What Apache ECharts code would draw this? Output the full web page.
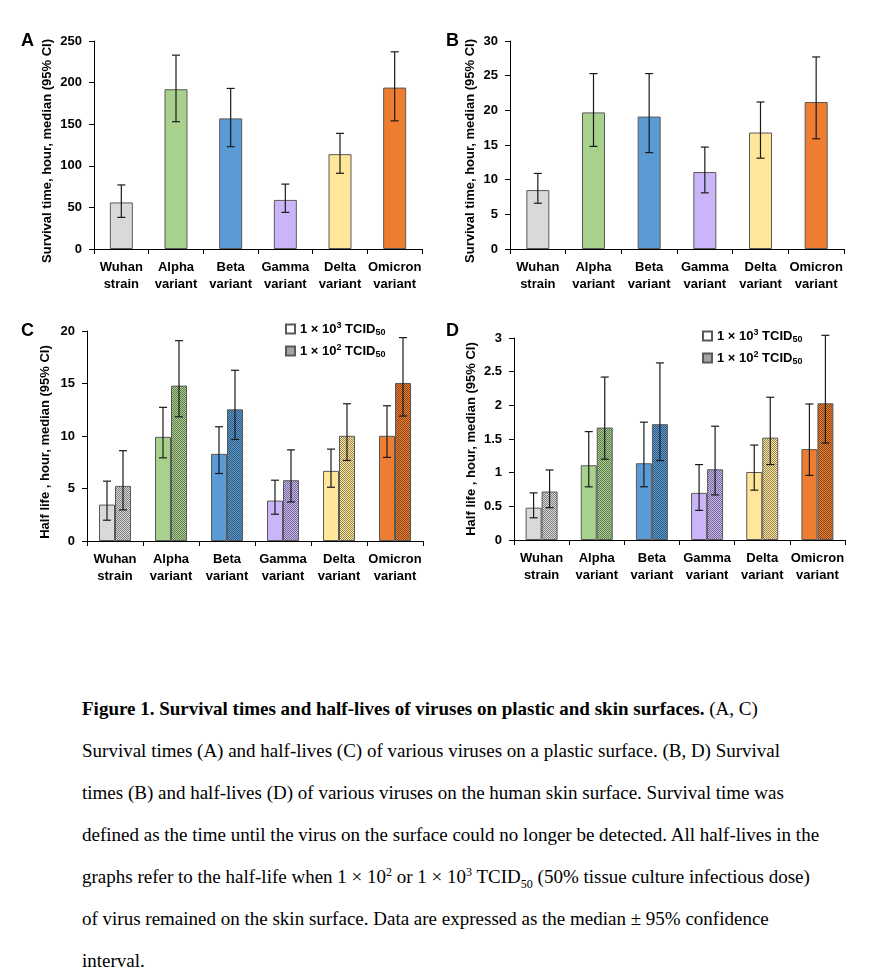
<!DOCTYPE html>
<html>
<head>
<meta charset="utf-8">
<script src="https://cdn.jsdelivr.net/npm/echarts@6/dist/echarts.min.js"></script>
<style>
  body { margin: 0; background: #fff; }
  #chart { position: absolute; left: 0; top: 0; width: 881px; height: 640px; }
  .caption {
    position: absolute; left: 82px; top: 688px;
    font-family: "Liberation Serif", "Times New Roman", serif;
    font-size: 19px; line-height: 42px; color: #000; white-space: nowrap;
  }
  .caption sup, .caption sub { font-size: 12px; line-height: 0; }
</style>
</head>
<body>
<div id="chart"></div>
<div class="caption">
  <b>Figure 1. Survival times and half-lives of viruses on plastic and skin surfaces.</b> (A, C)<br>
  Survival times (A) and half-lives (C) of various viruses on a plastic surface. (B, D) Survival<br>
  times (B) and half-lives (D) of various viruses on the human skin surface. Survival time was<br>
  defined as the time until the virus on the surface could no longer be detected. All half-lives in the<br>
  graphs refer to the half-life when 1 × 10<sup>2</sup> or 1 × 10<sup>3</sup> TCID<sub>50</sub> (50% tissue culture infectious dose)<br>
  of virus remained on the skin surface. Data are expressed as the median ± 95% confidence<br>
  interval.
</div>
<script>
// 病毒類別與顏色
const categories = ['Wuhan\nstrain', 'Alpha\nvariant', 'Beta\nvariant', 'Gamma\nvariant', 'Delta\nvariant', 'Omicron\nvariant'];
const barColors = ['#d9d9d9', '#a9d18e', '#5b9bd5', '#c9b5f7', '#ffe699', '#ed7d31'];
const legendNames = ['1 × 10^3 TCID50', '1 × 10^2 TCID50'];

// A: 塑膠表面存活時間
const plasticSurvival = [56, 192, 157, 59, 114, 194];
const plasticSurvivalLow = [38, 153, 123, 44, 91, 154];
const plasticSurvivalHigh = [77, 233, 193, 78, 139, 237];

// B: 皮膚表面存活時間
const skinSurvival = [8.5, 19.7, 19.1, 11.1, 16.8, 21.2];
const skinSurvivalLow = [6.6, 14.8, 13.9, 8.1, 13.1, 15.9];
const skinSurvivalHigh = [10.9, 25.3, 25.3, 14.7, 21.2, 27.7];

// C: 塑膠表面半衰期
const plasticHalf3 = [3.47, 9.92, 8.3, 3.85, 6.68, 10.02];
const plasticHalf3Low = [1.98, 7.92, 6.43, 2.55, 5.12, 7.96];
const plasticHalf3High = [5.7, 12.73, 10.88, 5.79, 8.75, 12.88];
const plasticHalf2 = [5.25, 14.8, 12.54, 5.79, 10.02, 15.05];
const plasticHalf2Low = [2.96, 11.83, 9.67, 3.72, 7.67, 11.9];
const plasticHalf2High = [8.6, 19.08, 16.26, 8.68, 13.07, 19.37];

// D: 皮膚表面半衰期
const skinHalf3 = [0.48, 1.11, 1.14, 0.7, 1.01, 1.35];
const skinHalf3Low = [0.33, 0.79, 0.79, 0.44, 0.74, 0.96];
const skinHalf3High = [0.7, 1.61, 1.75, 1.12, 1.41, 2.02];
const skinHalf2 = [0.72, 1.67, 1.72, 1.05, 1.52, 2.03];
const skinHalf2Low = [0.48, 1.2, 1.18, 0.67, 1.12, 1.44];
const skinHalf2High = [1.04, 2.42, 2.63, 1.69, 2.12, 3.04];

const FONT = '"Liberation Sans", Arial, sans-serif';

// 點狀花紋填色 (10^2 系列)
function dotted(base) {
  const c = document.createElement('canvas');
  c.width = 2; c.height = 2;
  const g = c.getContext('2d');
  g.fillStyle = base; g.fillRect(0, 0, 2, 2);
  g.fillStyle = 'rgba(0,0,0,0.42)';
  g.fillRect(0, 0, 1, 1); g.fillRect(1, 1, 1, 1);
  return { image: c, repeat: 'repeat' };
}

// 誤差線
function errorBar(offset) {
  return function (params, api) {
    const i = api.value(0);
    const lo = api.coord([i, api.value(1)]);
    const hi = api.coord([i, api.value(2)]);
    const cx = lo[0] + offset;
    const st = { stroke: '#1a1a1a', lineWidth: 1.2 };
    return {
      type: 'group',
      children: [
        { type: 'line', shape: { x1: cx, y1: hi[1], x2: cx, y2: lo[1] }, style: st },
        { type: 'line', shape: { x1: cx - 4, y1: hi[1], x2: cx + 4, y2: hi[1] }, style: st },
        { type: 'line', shape: { x1: cx - 4, y1: lo[1], x2: cx + 4, y2: lo[1] }, style: st }
      ]
    };
  };
}

function zip(low, high) {
  return low.map((v, i) => [i, v, high[i]]);
}

function xAxisFor(idx) {
  return {
    type: 'category', gridIndex: idx, data: categories,
    axisLine: { lineStyle: { color: '#000', width: 1 } },
    axisTick: { show: true, length: 5, lineStyle: { color: '#000' } },
    axisLabel: { interval: 0, color: '#000', fontFamily: FONT, fontWeight: 'bold', fontSize: 13, lineHeight: 17, margin: 10 }
  };
}

function yAxisFor(idx, max, interval, name, gap, shift) {
  return {
    type: 'value', gridIndex: idx, min: 0, max: max, interval: interval,
    name: name, nameLocation: 'middle', nameGap: gap,
    nameTextStyle: { color: '#000', fontFamily: FONT, fontWeight: 'bold', fontSize: 13, padding: [0, shift, 0, 0] },
    splitLine: { show: false },
    axisLine: { show: true, lineStyle: { color: '#000', width: 1 } },
    axisTick: { show: true, length: 5, lineStyle: { color: '#000' } },
    axisLabel: { color: '#000', fontFamily: FONT, fontWeight: 'bold', fontSize: 13, margin: 12 }
  };
}

const border = { borderColor: '#595959', borderWidth: 1 };

function singleBars(idx, values, low, high) {
  return [
    {
      type: 'bar', xAxisIndex: idx, yAxisIndex: idx, barWidth: 23,
      data: values.map((v, i) => ({ value: v, itemStyle: Object.assign({ color: barColors[i] }, border) }))
    },
    {
      type: 'custom', xAxisIndex: idx, yAxisIndex: idx, z: 5,
      renderItem: errorBar(0), encode: { x: 0, y: [1, 2] }, data: zip(low, high)
    }
  ];
}

function pairedBars(idx, v3, lo3, hi3, v2, lo2, hi2) {
  return [
    {
      name: legendNames[0], type: 'bar', xAxisIndex: idx, yAxisIndex: idx, barWidth: 16, barGap: '0%',
      itemStyle: Object.assign({ color: '#fff' }, border),
      data: v3.map((v, i) => ({ value: v, itemStyle: Object.assign({ color: barColors[i] }, border) }))
    },
    {
      name: legendNames[1], type: 'bar', xAxisIndex: idx, yAxisIndex: idx, barWidth: 16, barGap: '0%',
      itemStyle: Object.assign({ color: dotted('#d0d0d0') }, border),
      data: v2.map((v, i) => ({ value: v, itemStyle: Object.assign({ color: dotted(barColors[i]) }, border) }))
    },
    {
      type: 'custom', xAxisIndex: idx, yAxisIndex: idx, z: 5,
      renderItem: errorBar(-8), encode: { x: 0, y: [1, 2] }, data: zip(lo3, hi3)
    },
    {
      type: 'custom', xAxisIndex: idx, yAxisIndex: idx, z: 5,
      renderItem: errorBar(8), encode: { x: 0, y: [1, 2] }, data: zip(lo2, hi2)
    }
  ];
}

function legendFor(left, top) {
  return {
    data: legendNames, left: left, top: top, orient: 'vertical',
    itemWidth: 9, itemHeight: 9, itemGap: 6, icon: 'rect', selectedMode: false,
    formatter: function (n) {
      return n.indexOf('^3') > 0 ? '1 × 10{sup|3} TCID{sub|50}' : '1 × 10{sup|2} TCID{sub|50}';
    },
    textStyle: {
      color: '#000', fontFamily: FONT, fontWeight: 'bold', fontSize: 13,
      rich: {
        sup: { fontFamily: FONT, fontWeight: 'bold', fontSize: 9, padding: [0, 0, 7, 0] },
        sub: { fontFamily: FONT, fontWeight: 'bold', fontSize: 9, padding: [7, 0, 0, 0] }
      }
    }
  };
}

function letter(text, x, y) {
  return { type: 'text', left: x, top: y, style: { text: text, fill: '#000', font: 'bold 18px ' + FONT } };
}

const chart = echarts.init(document.getElementById('chart'));
chart.setOption({
  animation: false,
  backgroundColor: '#fff',
  grid: [
    { left: 94, top: 41, width: 328, height: 208 },
    { left: 510, top: 41, width: 334, height: 208 },
    { left: 87, top: 331, width: 336, height: 210 },
    { left: 514, top: 338, width: 331, height: 202 }
  ],
  xAxis: [xAxisFor(0), xAxisFor(1), xAxisFor(2), xAxisFor(3)],
  yAxis: [
    yAxisFor(0, 250, 50, 'Survival time, hour, median (95% CI)', 40, 12),
    yAxisFor(1, 30, 5, 'Survival time, hour, median (95% CI)', 33, 12),
    yAxisFor(2, 20, 5, 'Half life , hour, median (95% CI)', 35, 12),
    yAxisFor(3, 3, 0.5, 'Half life , hour, median (95% CI)', 36, 0)
  ],
  legend: [legendFor(280, 316), legendFor(697, 323)],
  graphic: [letter('A', 21, 32), letter('B', 446, 32), letter('C', 21, 322), letter('D', 446, 322)],
  series: [].concat(
    singleBars(0, plasticSurvival, plasticSurvivalLow, plasticSurvivalHigh),
    singleBars(1, skinSurvival, skinSurvivalLow, skinSurvivalHigh),
    pairedBars(2, plasticHalf3, plasticHalf3Low, plasticHalf3High, plasticHalf2, plasticHalf2Low, plasticHalf2High),
    pairedBars(3, skinHalf3, skinHalf3Low, skinHalf3High, skinHalf2, skinHalf2Low, skinHalf2High)
  )
});
</script>
</body>
</html>
